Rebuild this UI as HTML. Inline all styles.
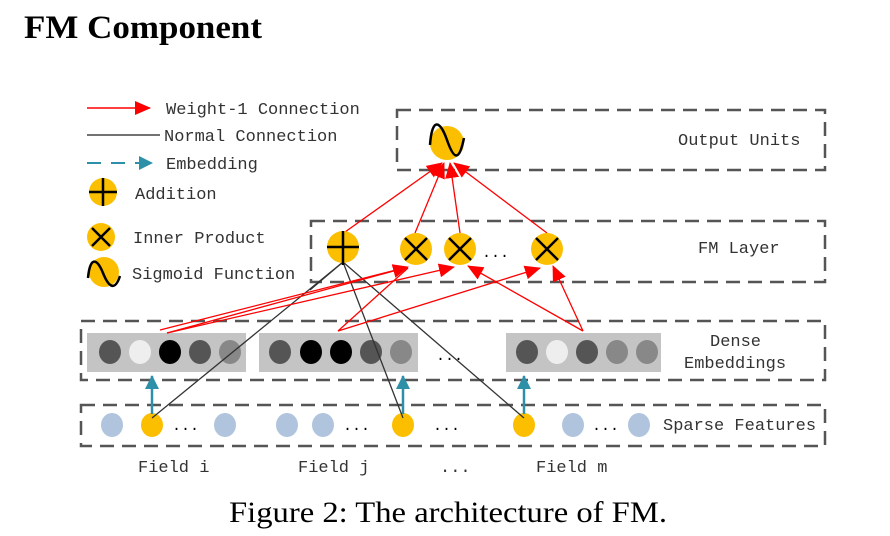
<!DOCTYPE html><html><head><style>body{margin:0;background:#fff;width:890px;height:536px;overflow:hidden}svg{display:block}</style></head><body>
<svg width="890" height="536" xmlns="http://www.w3.org/2000/svg">
<defs>
<marker id="rb" markerWidth="16" markerHeight="14" refX="15" refY="7" orient="auto" markerUnits="userSpaceOnUse"><path d="M0,0 L16,7 L0,14z" fill="#f00"/></marker>
<marker id="t" markerWidth="14" markerHeight="14" refX="13" refY="7" orient="auto" markerUnits="userSpaceOnUse"><path d="M0,0 L14,7 L0,14z" fill="#2e8fa8"/></marker>
</defs>
<text x="24" y="38" font-family="Liberation Serif" font-weight="bold" font-size="33" textLength="238" lengthAdjust="spacingAndGlyphs">FM Component</text>
<g font-family="Liberation Mono, monospace" font-size="17" fill="#333">
<line x1="87" y1="108" x2="150" y2="108" stroke="#f00" stroke-width="1.5" marker-end="url(#rb)"/>
<text x="166" y="114">Weight-1 Connection</text>
<line x1="87" y1="135" x2="160" y2="135" stroke="#444" stroke-width="1.5"/>
<text x="164" y="141">Normal Connection</text>
<line x1="87" y1="163" x2="152" y2="163" stroke="#2e8fa8" stroke-width="2" stroke-dasharray="14,10" marker-end="url(#t)"/>
<text x="166" y="169">Embedding</text>
<text x="135" y="199">Addition</text>
<text x="133" y="243">Inner Product</text>
<text x="132" y="279">Sigmoid Function</text>
<text x="678" y="145">Output Units</text>
<text x="698" y="253">FM Layer</text>
<text x="710" y="346">Dense</text>
<text x="684" y="368">Embeddings</text>
<text x="663" y="430">Sparse Features</text>
<text x="138" y="472">Field i</text>
<text x="298" y="472">Field j</text>
<text x="440" y="472">...</text>
<text x="536" y="472">Field m</text>
</g>
<g fill="#fbbf00" stroke="#000" stroke-width="2.5">
<circle cx="103" cy="192" r="14" stroke="none"/><path d="M89,192h28M103,178v28" fill="none"/>
<circle cx="101" cy="237" r="14" stroke="none"/><path d="M92,228l18,18M110,228l-18,18" fill="none"/>
<circle cx="104" cy="272" r="15" stroke="none"/><path d="M88,278c2,-22 9,-20 15,-5s12,18 17,3" fill="none"/>
</g>
<g fill="none" stroke="#555" stroke-width="2.5" stroke-dasharray="14,8">
<rect x="397" y="110" width="428" height="60"/>
<rect x="311" y="221" width="514" height="61"/>
<rect x="81" y="321" width="744" height="59"/>
<rect x="81" y="405" width="744" height="41"/>
</g>
<g fill="#c4c4c4"><rect x="87" y="333" width="159" height="39"/><rect x="259" y="333" width="159" height="39"/><rect x="506" y="333" width="155" height="39"/></g>
<g>
<ellipse cx="110" cy="352" rx="11" ry="12" fill="#555"/><ellipse cx="140" cy="352" rx="11" ry="12" fill="#eee"/><ellipse cx="170" cy="352" rx="11" ry="12" fill="#000"/><ellipse cx="200" cy="352" rx="11" ry="12" fill="#555"/><ellipse cx="230" cy="352" rx="11" ry="12" fill="#888"/>
<ellipse cx="280" cy="352" rx="11" ry="12" fill="#555"/><ellipse cx="311" cy="352" rx="11" ry="12" fill="#000"/><ellipse cx="341" cy="352" rx="11" ry="12" fill="#000"/><ellipse cx="371" cy="352" rx="11" ry="12" fill="#555"/><ellipse cx="401" cy="352" rx="11" ry="12" fill="#888"/>
<ellipse cx="527" cy="352" rx="11" ry="12" fill="#555"/><ellipse cx="557" cy="352" rx="11" ry="12" fill="#eee"/><ellipse cx="587" cy="352" rx="11" ry="12" fill="#555"/><ellipse cx="617" cy="352" rx="11" ry="12" fill="#888"/><ellipse cx="647" cy="352" rx="11" ry="12" fill="#888"/>
</g>
<text x="436" y="360" font-family="Liberation Mono" font-size="15">...</text>
<g fill="#b0c4de">
<ellipse cx="112" cy="425" rx="11" ry="12"/><ellipse cx="225" cy="425" rx="11" ry="12"/><ellipse cx="287" cy="425" rx="11" ry="12"/><ellipse cx="323" cy="425" rx="11" ry="12"/><ellipse cx="573" cy="425" rx="11" ry="12"/><ellipse cx="639" cy="425" rx="11" ry="12"/>
</g>
<g fill="#fbbf00"><ellipse cx="152" cy="425" rx="11" ry="12"/><ellipse cx="403" cy="425" rx="11" ry="12"/><ellipse cx="524" cy="425" rx="11" ry="12"/></g>
<g font-family="Liberation Mono" font-size="15"><text x="172" y="430">...</text><text x="343" y="430">...</text><text x="433" y="430">...</text><text x="592" y="430">...</text><text x="482" y="257">...</text></g>
<g stroke="#2e8fa8" stroke-width="2.5" fill="none">
<line x1="152" y1="414" x2="152" y2="376" marker-end="url(#t)"/><line x1="403" y1="414" x2="403" y2="376" marker-end="url(#t)"/><line x1="524" y1="414" x2="524" y2="376" marker-end="url(#t)"/>
</g>
<g stroke="#333" stroke-width="1.3">
<line x1="343" y1="262" x2="152" y2="418"/><line x1="343" y1="262" x2="403" y2="418"/><line x1="343" y1="262" x2="524" y2="418"/><line x1="343" y1="262" x2="310" y2="290"/>
</g>
<g stroke="#f00" stroke-width="1.3" fill="none">
<line x1="167" y1="333" x2="408" y2="267" marker-end="url(#rb)"/>
<line x1="167" y1="333" x2="454" y2="267" marker-end="url(#rb)"/>
<line x1="160" y1="330" x2="404" y2="268"/>
<line x1="338" y1="331" x2="408" y2="268"/>
<line x1="338" y1="331" x2="540" y2="268" marker-end="url(#rb)"/>
<line x1="583" y1="331" x2="468" y2="266" marker-end="url(#rb)"/>
<line x1="583" y1="331" x2="553" y2="266" marker-end="url(#rb)"/>
<line x1="345" y1="232" x2="442" y2="163" marker-end="url(#rb)"/>
<line x1="415" y1="233" x2="444" y2="163" marker-end="url(#rb)"/>
<line x1="460" y1="233" x2="450" y2="163" marker-end="url(#rb)"/>
<line x1="547" y1="233" x2="454" y2="163" marker-end="url(#rb)"/>
</g>
<g fill="#fbbf00" stroke="#000" stroke-width="2.5">
<circle cx="447" cy="143" r="17" stroke="none"/><path d="M430,145c2,-28 10,-25 17,-5s12,22 17,-2" fill="none"/>
<circle cx="343" cy="247" r="16" stroke="none"/><path d="M327,247h32M343,231v34" fill="none"/>
<circle cx="416" cy="249" r="16" stroke="none"/><path d="M405,238l22,22M427,238l-22,22" fill="none"/>
<circle cx="460" cy="249" r="16" stroke="none"/><path d="M449,238l22,22M471,238l-22,22" fill="none"/>
<circle cx="547" cy="249" r="16" stroke="none"/><path d="M536,238l22,22M558,238l-22,22" fill="none"/>
</g>
<text x="229" y="522" font-family="Liberation Serif" font-size="30" textLength="438" lengthAdjust="spacingAndGlyphs">Figure 2: The architecture of FM.</text>
</svg>
</body></html>
